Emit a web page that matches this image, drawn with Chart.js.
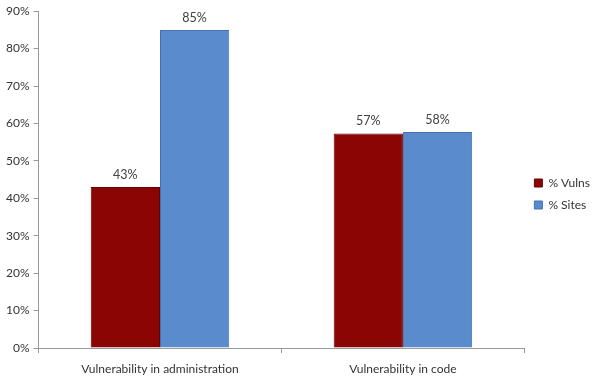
<!DOCTYPE html>
<html><head><meta charset="utf-8">
<script src="https://cdn.jsdelivr.net/npm/chart.js@4/dist/chart.umd.min.js"></script>
<style>html,body{margin:0;padding:0;background:#fff}#w{width:600px;height:380px}</style>
</head><body><div id="w"><canvas id="c"></canvas></div>
<script>
const categories = ["Vulnerability in administration", "Vulnerability in code"];
const vulns = [43, 57.3];
const sites = [85, 57.7];
const vulnLabels = ["43%", "57%"];
const siteLabels = ["85%", "58%"];
const yTicks = [0,10,20,30,40,50,60,70,80,90];

const FONT = "Lato, 'Open Sans', sans-serif";
const valueLabels = {
  id: 'valueLabels',
  afterDatasetsDraw(chart) {
    const ctx = chart.ctx;
    ctx.save();
    ctx.font = "12.5px " + FONT;
    ctx.fillStyle = "#404040";
    ctx.textAlign = "center";
    ctx.textBaseline = "bottom";
    const labs = [vulnLabels, siteLabels];
    chart.data.datasets.forEach((ds, i) => {
      chart.getDatasetMeta(i).data.forEach((bar, j) => {
        ctx.fillText(labs[i][j], bar.x, bar.y - 6);
      });
    });
    ctx.restore();
  }
};

new Chart(document.getElementById('c'), {
  type: 'bar',
  data: {
    labels: categories,
    datasets: [
      {label: '% Vulns', data: vulns, backgroundColor: '#8B0505', borderColor: '#6a0000', borderWidth: 1},
      {label: '% Sites', data: sites, backgroundColor: '#5A8BCD', borderColor: '#4572ab', borderWidth: 1}
    ]
  },
  options: {
    responsive: true, maintainAspectRatio: false, animation: false,
    layout: {padding: {top: 8, left: 2, right: 0, bottom: 0}},
    datasets: {bar: {categoryPercentage: 0.57, barPercentage: 1.0}},
    plugins: {
      legend: {
        position: 'right',
        labels: {boxWidth: 8, boxHeight: 8, font: {family: FONT, size: 12}, color: '#333', padding: 10}
      },
      tooltip: {enabled: false}
    },
    scales: {
      x: {
        afterFit(scale) { scale.height = 32; },
        grid: {display: true, drawOnChartArea: false, offset: true, color: '#999', tickLength: 5},
        border: {color: '#999'},
        ticks: {font: {family: FONT, size: 12}, color: '#333', padding: 9}
      },
      y: {
        min: 0, max: 90,
        afterBuildTicks(axis) { axis.ticks = yTicks.map(v => ({value: v})); },
        grid: {display: true, drawOnChartArea: false, color: '#999', tickLength: 5},
        border: {color: '#999'},
        ticks: {font: {family: FONT, size: 12}, color: '#333', padding: 4, callback: v => v + '%'}
      }
    }
  },
  plugins: [valueLabels]
});
</script></body></html>
